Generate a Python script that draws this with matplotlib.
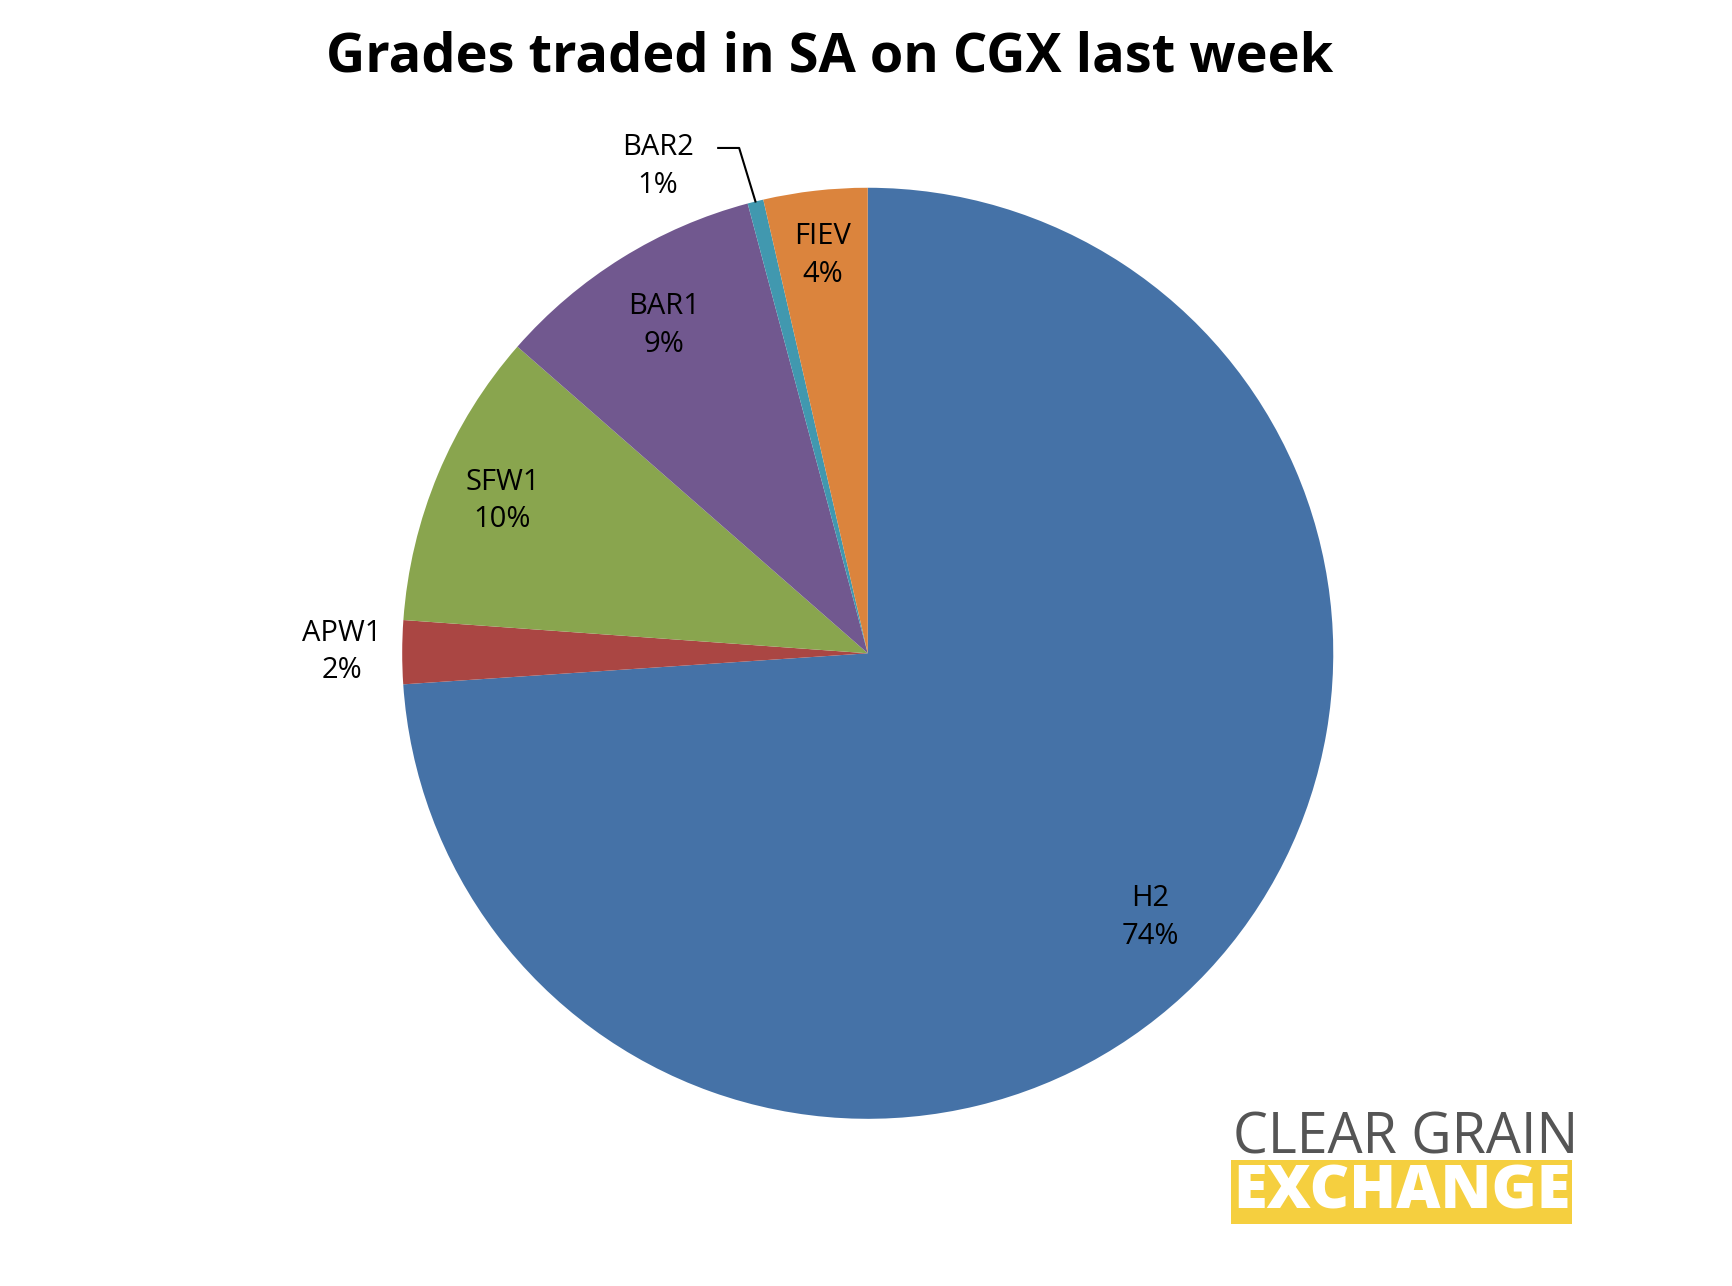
import matplotlib
matplotlib.use('Agg')
import matplotlib.pyplot as plt
import numpy as np

# data (clockwise from 12 o'clock)
grades = ['H2', 'APW1', 'SFW1', 'BAR1', 'BAR2', 'FIEV']
shares = [73.9, 2.2, 10.3, 9.4, 0.55, 3.6]
colors = ['#4572A7', '#AA4643', '#89A54E', '#71588F', '#4198AF', '#DB843D']
label_r = [0.83, 1.13, 0.85, 0.83, None, 0.86]

plt.rcParams['font.family'] = ['Open Sans', 'DejaVu Sans']

fig = plt.figure(figsize=(17.32, 12.86), dpi=100)
ax = fig.add_axes([0.232, 0.130, 0.538, 0.724])
wedges, _ = ax.pie(shares, colors=colors, startangle=90, counterclock=False,
                   radius=1, wedgeprops=dict(linewidth=0))
ax.set_xlim(-1, 1)
ax.set_ylim(-1, 1)
ax.set_aspect('equal')
ax.axis('off')

total = sum(shares)
for w, name, v, r in zip(wedges, grades, shares, label_r):
    pct = f'{v / total * 100:.0f}%'
    mid = np.deg2rad((w.theta1 + w.theta2) / 2)
    if r is None:
        # outside label with leader line
        ex, ey = np.cos(mid), np.sin(mid)
        ax.plot([ex, ex - 0.035, ex - 0.08], [ey, ey + 0.115, ey + 0.115],
                color='black', lw=1.5, clip_on=False)
        ax.text(ex - 0.21, ey + 0.075, f'{name}\n{pct}', ha='center', va='center',
                fontsize=21, linespacing=1.4)
        continue
    ax.text(r * np.cos(mid), r * np.sin(mid), f'{name}\n{pct}', ha='center',
            va='center', fontsize=21, linespacing=1.4)

fig.text(0.479, 0.955, 'Grades traded in SA on CGX last week', ha='center',
         va='center', fontsize=39, fontweight='bold')

# logo
fig.text(0.712, 0.114, 'CLEAR GRAIN', fontsize=40, color='#555555',
         ha='left', va='center', fontstretch='expanded')
fig.text(0.712, 0.073, 'EXCHANGE', fontsize=44, color='white', fontweight='heavy',
         ha='left', va='center',
         bbox=dict(boxstyle='square,pad=0.03', fc='#F5CF3F', ec='none'))

fig.savefig('out.png', dpi=100)
